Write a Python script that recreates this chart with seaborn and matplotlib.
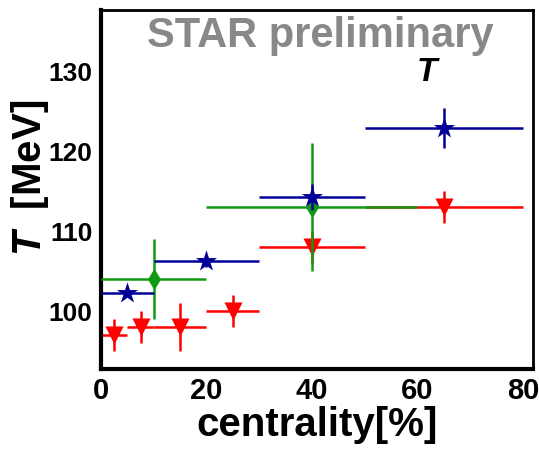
import numpy as np
import pandas as pd
import matplotlib
matplotlib.use("Agg")
import matplotlib.pyplot as plt
from matplotlib.ticker import MultipleLocator
import seaborn as sns

# Blue stars
blue_x = [5, 20, 40, 65]
blue_xlo = [0, 10, 30, 50]
blue_xhi = [10, 30, 50, 80]
blue_y = [102.2, 106.2, 114.2, 122.8]
blue_yerr = [0.5, 0.8, 1.6, 2.5]

# Green diamonds
green_x = [10, 40]
green_xlo = [0, 20]
green_xhi = [20, 60]
green_y = [104.0, 113.0]
green_yerr = [5.0, 8.0]

# Red triangles
red_x = [2.5, 7.5, 15, 25, 40, 65]
red_xlo = [0, 5, 10, 20, 30, 50]
red_xhi = [5, 10, 20, 30, 50, 80]
red_y = [97.0, 98.0, 98.0, 100.0, 108.0, 113.0]
red_yerr = [2.0, 2.0, 3.0, 2.0, 2.0, 2.0]

x_ticks = [0, 20, 40, 60, 80]
y_ticks = [100, 110, 120, 130]

sns.set_style("white")
plt.rcParams["font.family"] = ["Liberation Sans", "DejaVu Sans"]
plt.rcParams["font.weight"] = "bold"
plt.rcParams["text.color"] = "black"
plt.rcParams["xtick.color"] = "black"
plt.rcParams["ytick.color"] = "black"
plt.rcParams["mathtext.fontset"] = "custom"
plt.rcParams["mathtext.bfit"] = "Liberation Sans:bold:italic"

fig = plt.figure(figsize=(5.39, 4.52), dpi=100)
ax = fig.add_axes([101 / 539, 1 - 370 / 452, 432 / 539, 359 / 452])

series = [
    ("red", "#ff0000", "v", 13, red_x, red_xlo, red_xhi, red_y, red_yerr),
    ("green", "#119911", "d", 11, green_x, green_xlo, green_xhi, green_y, green_yerr),
    ("blue", "#000099", "*", 16, blue_x, blue_xlo, blue_xhi, blue_y, blue_yerr),
]

for i, (name, col, mk, ms, xs, xlo, xhi, ys, ye) in enumerate(series):
    xs = np.array(xs)
    xerr = np.vstack([xs - np.array(xlo), np.array(xhi) - xs])
    ax.errorbar(xs, ys, xerr=xerr, yerr=ye, fmt="none", ecolor=col,
                elinewidth=1.8, capsize=0, zorder=2 + 2 * i)
    df = pd.DataFrame({"x": xs, "y": ys})
    sns.scatterplot(data=df, x="x", y="y", ax=ax, color=col, marker=mk,
                    s=ms ** 2, linewidth=0, zorder=3 + 2 * i, legend=False)

ax.set_xlim(0, 81.9)
ax.set_ylim(92.7, 137.6)
ax.set_xticks(x_ticks)
ax.set_yticks(y_ticks)
ax.xaxis.set_minor_locator(MultipleLocator(5))
ax.yaxis.set_minor_locator(MultipleLocator(2))
ax.tick_params(axis="both", which="both", direction="in", color="black",
               labelcolor="black", top=False, right=False)
ax.tick_params(axis="y", which="major", length=12, width=2.2, pad=6,
               labelsize=19)
ax.tick_params(axis="y", which="minor", length=8, width=2.0)
ax.tick_params(axis="x", which="major", length=10, width=2.2, pad=5,
               labelsize=21)
ax.tick_params(axis="x", which="minor", length=5, width=2.0)
for lab in ax.get_xticklabels() + ax.get_yticklabels():
    lab.set_fontweight("bold")

for side in ["left", "bottom"]:
    ax.spines[side].set_linewidth(3)
for side in ["top", "right"]:
    ax.spines[side].set_linewidth(2)
for sp in ax.spines.values():
    sp.set_color("black")
ax.set_xlabel("")
ax.set_ylabel("")

ax.text(0.507, 0.900, "STAR preliminary", transform=ax.transAxes,
        ha="center", va="baseline", color="#888888", fontsize=30,
        fontweight="bold")
ax.text(0.755, 0.806, "T", transform=ax.transAxes, ha="center",
        va="baseline", fontsize=24, fontweight="bold", style="italic")

fig.text(317 / 539, 1 - 425 / 452, "centrality[%]", ha="center",
         va="center", fontsize=29, fontweight="bold")
fig.text(30 / 539, 1 - 178 / 452, "$\\mathbfit{T}$  [MeV]", ha="center",
         va="center", rotation=90, fontsize=29, fontweight="bold")

fig.savefig("out.png", dpi=100)
